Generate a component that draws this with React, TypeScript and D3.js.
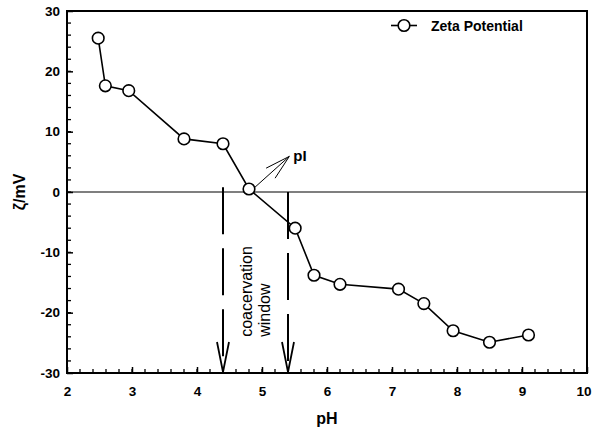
import React, { useEffect, useRef } from "react";
import * as d3 from "d3";

// zeta potential vs pH
const phValues = [2.48, 2.59, 2.95, 3.8, 4.4, 4.8, 5.51, 5.8, 6.2, 7.1, 7.49, 7.94, 8.5, 9.1];
const zetaValues = [25.5, 17.6, 16.8, 8.8, 8.0, 0.5, -6.0, -13.8, -15.3, -16.1, -18.5, -23.0, -24.9, -23.7];

const xTicks = [2, 3, 4, 5, 6, 7, 8, 9, 10];
const yTicks = [-30, -20, -10, 0, 10, 20, 30];

// coacervation window bounds (pH) and where the dashed lines start (mV)
const windowPH = [4.4, 5.4];
const windowTop = [0.8, 0];
const pIPoint = [4.8, 0.5];
const pIArrowTip = [5.42, 5.9];

const seriesName = "Zeta Potential";
const font = "'Liberation Sans', Arial, sans-serif";

const W = 592;
const H = 436;

const drawChart = (node: SVGSVGElement) => {
  const svg = d3.select(node);
  svg.selectAll("*").remove();

  const margin = { top: 11, right: 5, bottom: 63, left: 67 };
  const width = W - margin.left - margin.right;
  const height = H - margin.top - margin.bottom;

  const x = d3.scaleLinear().domain([2, 10]).range([0, width]);
  const y = d3.scaleLinear().domain([-30, 30]).range([height, 0]);

  const g = svg.append("g").attr("transform", `translate(${margin.left},${margin.top})`);

  // minor ticks (inward)
  const xMinor = d3.range(2, 10.001, 0.2);
  g.append("g")
    .selectAll("line")
    .data(xMinor)
    .join("line")
    .attr("x1", (d) => x(d))
    .attr("x2", (d) => x(d))
    .attr("y1", height)
    .attr("y2", height - 4)
    .attr("stroke", "#000")
    .attr("stroke-width", 1.3);

  const yMinor = d3.range(-30, 30.001, 2);
  g.append("g")
    .selectAll("line")
    .data(yMinor)
    .join("line")
    .attr("x1", 0)
    .attr("x2", 4)
    .attr("y1", (d) => y(d))
    .attr("y2", (d) => y(d))
    .attr("stroke", "#000")
    .attr("stroke-width", 1.3);

  // major axes
  const fmt = (d: any) => String(d);
  const xAxis = g.append("g")
    .attr("transform", `translate(0,${height})`)
    .call(d3.axisBottom(x).tickValues(xTicks).tickSizeInner(-6).tickSizeOuter(0).tickPadding(13).tickFormat(fmt));
  const yAxis = g.append("g")
    .call(d3.axisLeft(y).tickValues(yTicks).tickSizeInner(-6).tickSizeOuter(0).tickPadding(7).tickFormat(fmt));

  [xAxis, yAxis].forEach((a) => {
    a.attr("font-family", font).attr("font-size", 13.5).attr("font-weight", "bold");
    a.select(".domain").remove();
    a.selectAll("line").attr("stroke", "#000").attr("stroke-width", 1.5);
    a.selectAll("text").attr("fill", "#000");
  });
  // last x label sits on the page edge; keep it inside
  xAxis.selectAll("text").filter((d: any) => d === 10).attr("text-anchor", "end").attr("dx", "4");

  // zero line
  g.append("line")
    .attr("x1", 0)
    .attr("x2", width)
    .attr("y1", y(0))
    .attr("y2", y(0))
    .attr("stroke", "#000")
    .attr("stroke-width", 1.2);

  // coacervation window dashed arrows
  windowPH.forEach((p, i) => {
    const xp = x(p);
    g.append("line")
      .attr("x1", xp)
      .attr("x2", xp)
      .attr("y1", y(windowTop[i]))
      .attr("y2", height - 2)
      .attr("stroke", "#000")
      .attr("stroke-width", 2)
      .attr("stroke-dasharray", "47,14");
    g.append("path")
      .attr("d", `M${xp - 6},${height - 31} L${xp},${height - 1} L${xp + 6},${height - 31}`)
      .attr("fill", "none")
      .attr("stroke", "#000")
      .attr("stroke-width", 1.8);
  });

  // rotated label
  const labelX = (x(windowPH[0]) + x(windowPH[1])) / 2;
  const label = g.append("text")
    .attr("transform", `translate(${labelX},${y(-24)}) rotate(-90)`)
    .attr("font-family", font)
    .attr("font-size", 16)
    .attr("fill", "#000");
  label.append("tspan").attr("x", 0).attr("dy", "-0.25em").text("coacervation");
  label.append("tspan").attr("x", 0).attr("dy", "1.15em").text("window");

  // pI arrow
  const x0 = x(pIPoint[0]) + 4;
  const y0 = y(pIPoint[1]);
  const x1 = x(pIArrowTip[0]);
  const y1 = y(pIArrowTip[1]);
  const ang = Math.atan2(y0 - y1, x0 - x1);
  const headLen = 26;
  const spread = (15 * Math.PI) / 180;
  g.append("line")
    .attr("x1", x0)
    .attr("y1", y0)
    .attr("x2", x1)
    .attr("y2", y1)
    .attr("stroke", "#000")
    .attr("stroke-width", 1);
  g.append("path")
    .attr(
      "d",
      `M${x1 + headLen * Math.cos(ang - spread)},${y1 + headLen * Math.sin(ang - spread)} L${x1},${y1} L${x1 + headLen * Math.cos(ang + spread)},${y1 + headLen * Math.sin(ang + spread)}`
    )
    .attr("fill", "none")
    .attr("stroke", "#000")
    .attr("stroke-width", 1);
  g.append("text")
    .attr("x", x1 + 4)
    .attr("y", y1 + 5)
    .attr("font-family", font)
    .attr("font-size", 15)
    .attr("font-weight", "bold")
    .text("pI");

  // data line + markers
  const data = phValues.map((p, i) => ({ ph: p, zeta: zetaValues[i] }));
  const line = d3.line<{ ph: number; zeta: number }>()
    .x((d) => x(d.ph))
    .y((d) => y(d.zeta));

  g.append("path")
    .datum(data)
    .attr("d", line)
    .attr("fill", "none")
    .attr("stroke", "#000")
    .attr("stroke-width", 1.6);

  g.append("g")
    .selectAll("circle")
    .data(data)
    .join("circle")
    .attr("cx", (d) => x(d.ph))
    .attr("cy", (d) => y(d.zeta))
    .attr("r", 5.8)
    .attr("fill", "#fff")
    .attr("stroke", "#000")
    .attr("stroke-width", 1.6);

  // legend
  const lg = g.append("g").attr("transform", `translate(${391 - margin.left},${25.5 - margin.top})`);
  lg.append("line").attr("x1", 0).attr("x2", 26).attr("y1", 0).attr("y2", 0).attr("stroke", "#000").attr("stroke-width", 1.6);
  lg.append("circle").attr("cx", 13).attr("cy", 0).attr("r", 5.8).attr("fill", "#fff").attr("stroke", "#000").attr("stroke-width", 1.6);
  lg.append("text")
    .attr("x", 40)
    .attr("y", 5)
    .attr("font-family", font)
    .attr("font-size", 14)
    .attr("font-weight", "bold")
    .text(seriesName);

  // frame
  g.append("rect")
    .attr("x", 0)
    .attr("y", 0)
    .attr("width", width)
    .attr("height", height)
    .attr("fill", "none")
    .attr("stroke", "#000")
    .attr("stroke-width", 2);

  // axis titles
  svg.append("text")
    .attr("x", margin.left + x(6))
    .attr("y", 424)
    .attr("text-anchor", "middle")
    .attr("font-family", font)
    .attr("font-size", 16)
    .attr("font-weight", "bold")
    .text("pH");

  svg.append("text")
    .attr("transform", `translate(25,${margin.top + y(0)}) rotate(-90)`)
    .attr("text-anchor", "middle")
    .attr("font-family", font)
    .attr("font-size", 16)
    .attr("font-weight", "bold")
    .text("ζ/mV");
};

export default function App() {
  const ref = useRef<SVGSVGElement>(null);

  useEffect(() => {
    if (ref.current) drawChart(ref.current);
  }, []);

  return (
    <svg
      ref={ref}
      width={W}
      height={H}
      style={{ position: "absolute", left: 0, top: 0, background: "#fff" }}
    />
  );
}
